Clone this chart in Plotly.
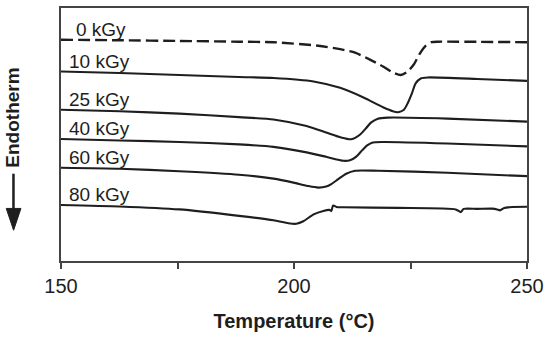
import plotly.graph_objects as go

# ---- data (temperature in °C, heat flow in arbitrary units, offset per curve) ----
dose_labels = ["0 kGy", "10 kGy", "25 kGy", "40 kGy", "60 kGy", "80 kGy"]

t_0 = [150, 162.6, 175.4, 188.2, 195.6, 205.2, 209.9, 213.1, 216.3, 219.1, 221.2, 222.9, 224.4, 225.7, 227.0, 228.3, 229.5, 230.8, 250]
hf_0 = [223, 222.5, 221.8, 221, 220.5, 217, 213.5, 210, 203, 196, 190, 187.5, 191, 198, 209, 217, 220.5, 221, 220.5]

t_10 = [150, 162.6, 175.4, 188.2, 195.6, 204.2, 209.9, 214.8, 219.1, 221.2, 222.3, 223.6, 224.4, 225.3, 226.1, 227.2, 228.7, 239.3, 250]
hf_10 = [191, 189.5, 187.5, 185.5, 184.5, 181, 174.5, 165, 155, 151, 150, 152.5, 159, 169, 179, 184, 185, 183.5, 181.5]

t_25 = [150, 162.6, 175.4, 188.2, 195.6, 202.7, 206.9, 210.1, 212.3, 214.2, 215.5, 216.5, 218.0, 220.1, 232.9, 250]
hf_25 = [152.5, 151, 148.5, 145, 142.7, 136, 129.5, 124.5, 122.7, 127.5, 134, 139.5, 143.5, 144.5, 143.5, 140.5]

t_40 = [150, 162.6, 175.4, 188.2, 195.6, 202.7, 206.9, 210.6, 212.0, 213.3, 214.6, 215.7, 216.9, 219.1, 232.9, 250]
hf_40 = [123, 121.5, 120, 117.5, 115, 109.5, 105, 101, 101.5, 105, 111.5, 116.5, 119.5, 120, 118.5, 115.5]

t_60 = [150, 162.6, 175.4, 188.2, 195.6, 199.9, 203.1, 205.2, 206.9, 208.0, 209.5, 211.2, 213.1, 218.0, 232.9, 250]
hf_60 = [94, 93, 90.5, 87, 83, 79, 75.5, 74, 75, 77.5, 82.5, 88, 91, 91, 89, 85.5]

t_80 = [150, 162.6, 175.4, 188.2, 195.6, 198.8, 200.5, 202.0, 204.2, 206.3, 207.6, 208.0, 208.4, 209.1, 210.6, 222.3, 234.7, 235.8, 236.4, 239.3, 242.5, 243.6, 244.2, 245.1, 246.8, 250]
hf_80 = [56.5, 55, 52, 45.5, 41, 38, 37.5, 40, 47, 50.5, 51.5, 50.3, 56, 54.5, 54.2, 53.5, 52, 49.3, 52.5, 52.5, 52.8, 52, 51, 53.5, 54.5, 54.7]

x_tick_vals = [150, 175, 200, 225, 250]
x_tick_text = ["150", "", "200", "", "250"]

series_t = [t_0, t_10, t_25, t_40, t_60, t_80]
series_hf = [hf_0, hf_10, hf_25, hf_40, hf_60, hf_80]

FONT = "Liberation Sans, Arial, sans-serif"
INK = "#1e1e1e"
AX = "#444444"

fig = go.Figure()
for i, (t, hf) in enumerate(zip(series_t, series_hf)):
    fig.add_trace(go.Scatter(
        x=t, y=hf, mode="lines", name=dose_labels[i],
        line=dict(color=INK, width=2.4 if i == 0 else 2.1,
                  dash="12px,5px" if i == 0 else "solid",
                  shape="spline", smoothing=0.6),
        showlegend=False, hoverinfo="skip",
    ))

annotations = []
for i, (t, hf) in enumerate(zip(series_t, series_hf)):
    annotations.append(dict(
        x=t[0] + 1.3 + (1.5 if i == 0 else 0), y=hf[0] + 10.5, xref="x", yref="y",
        text=dose_labels[i], showarrow=False, xanchor="left", yanchor="middle",
        font=dict(family=FONT, size=19, color=INK),
    ))

# y-axis label with downward arrow
annotations.append(dict(
    x=-0.106, y=0.565, xref="paper", yref="paper", text="<b>Endotherm</b>",
    textangle=-90, showarrow=False, xanchor="center", yanchor="middle",
    font=dict(family=FONT, size=19, color=INK),
))

shapes = [
    dict(type="line", xref="paper", yref="paper", x0=-0.1020, x1=-0.1020,
         y0=0.345, y1=0.19, line=dict(color=INK, width=2.5)),
    dict(type="path", xref="paper", yref="paper",
         path="M -0.1175,0.2078 L -0.0860,0.2078 L -0.1017,0.1216 Z",
         fillcolor=INK, line=dict(color=INK, width=1)),
]

fig.update_layout(
    width=550, height=338,
    margin=dict(l=61, r=20, t=6, b=77),
    paper_bgcolor="white", plot_bgcolor="white",
    font=dict(family=FONT, color=INK),
    annotations=annotations, shapes=shapes,
    xaxis=dict(
        range=[150, 250], tickvals=x_tick_vals, ticktext=x_tick_text,
        ticks="outside", ticklen=6, tickwidth=1.5, tickcolor=AX,
        showline=True, linecolor=AX, linewidth=1.5, mirror=True,
        showgrid=False, zeroline=False,
        tickfont=dict(family=FONT, size=20, color=INK),
        title=dict(text="<b>Temperature (°C)</b>", standoff=18,
                   font=dict(family=FONT, size=20, color=INK)),
    ),
    yaxis=dict(
        range=[0, 255], showticklabels=False, ticks="",
        showline=True, linecolor=AX, linewidth=1.5, mirror=True,
        showgrid=False, zeroline=False,
    ),
)

fig.write_html("out.html", config={"displayModeBar": False},
               post_script="document.body.style.margin='0';document.body.style.overflow='hidden';")
